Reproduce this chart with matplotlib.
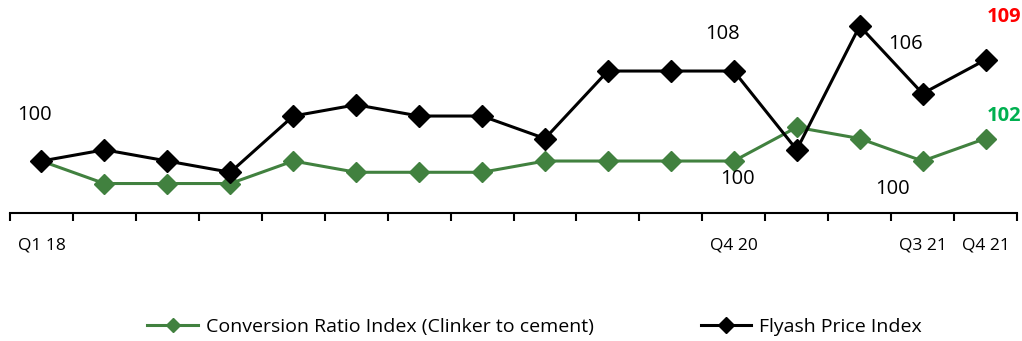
import matplotlib.pyplot as plt
import numpy as np

plt.rcParams['font.family'] = ['Open Sans', 'DejaVu Sans']

quarters = ['Q1 18', 'Q2 18', 'Q3 18', 'Q4 18', 'Q1 19', 'Q2 19', 'Q3 19', 'Q4 19',
            'Q1 20', 'Q2 20', 'Q3 20', 'Q4 20', 'Q1 21', 'Q2 21', 'Q3 21', 'Q4 21']
shown_labels = ['Q1 18', 'Q4 20', 'Q3 21', 'Q4 21']
conversion = [100, 98, 98, 98, 100, 99, 99, 99, 100, 100, 100, 100, 103, 102, 100, 102]
flyash = [100, 101, 100, 99, 104, 105, 104, 104, 102, 108, 108, 108, 101, 112, 106, 109]

green = '#41813f'

fig = plt.figure(figsize=(10.22, 3.41), dpi=100)
ax = fig.add_axes([10 / 1022, 1 - 213 / 341, 1007 / 1022, 208 / 341])

x = np.arange(len(quarters))
ax.plot(x, conversion, color=green, lw=2.2, marker='D', ms=10,
        label='Conversion Ratio Index (Clinker to cement)')
ax.plot(x, flyash, color='black', lw=2.2, marker='D', ms=11,
        label='Flyash Price Index')

ax.set_xlim(-0.5, len(quarters) - 0.5)
ax.set_ylim(95.38, 113.87)

# data labels
lbl = 14.5
ax.annotate('100', (0, flyash[0]), xytext=(-5, 33), textcoords='offset points',
            ha='center', va='center', fontsize=lbl)
ax.annotate('108', (11, flyash[11]), xytext=(-8, 27), textcoords='offset points',
            ha='center', va='center', fontsize=lbl)
ax.annotate('100', (11, conversion[11]), xytext=(3, -13), textcoords='offset points',
            ha='center', va='center', fontsize=lbl)
ax.annotate('106', (14, flyash[14]), xytext=(-12, 36), textcoords='offset points',
            ha='center', va='center', fontsize=lbl)
ax.annotate('100', (14, conversion[14]), xytext=(-22, -20), textcoords='offset points',
            ha='center', va='center', fontsize=lbl)
ax.annotate('109', (15, flyash[15]), xytext=(13, 31), textcoords='offset points',
            ha='center', va='center', fontsize=lbl, color='red', fontweight='bold')
ax.annotate('102', (15, conversion[15]), xytext=(13, 16), textcoords='offset points',
            ha='center', va='center', fontsize=lbl, color='#00b050', fontweight='bold')

# axis styling
for side in ['left', 'right', 'top']:
    ax.spines[side].set_visible(False)
ax.spines['bottom'].set_linewidth(1.5)
ax.set_yticks([])
ax.set_xticks(np.arange(len(quarters) + 1) - 0.5)
ax.set_xticklabels([])
ax.tick_params(axis='x', length=6, width=1.5)
ax.set_xticks(x, minor=True)
ax.set_xticklabels([q if q in shown_labels else '' for q in quarters], minor=True,
                   fontsize=12.5)
ax.tick_params(axis='x', which='minor', length=0, pad=18)

fig.legend(loc='center', bbox_to_anchor=(0.523, 0.042), ncol=2, frameon=False,
           fontsize=14, columnspacing=5.5, handlelength=2.6, markerscale=0.75,
           handletextpad=0.4)

fig.savefig('out.png', dpi=100)
